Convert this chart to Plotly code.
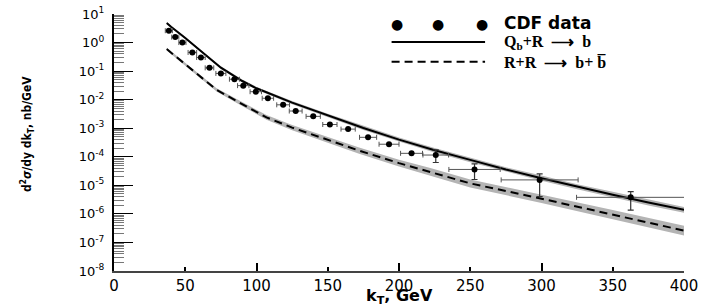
import plotly.graph_objects as go

# CDF data points (kT in GeV, cross section in nb/GeV)
cdf_kt = [38.5, 43, 48, 55, 61, 67, 75, 84.5, 90.7, 99.5, 108, 118.7, 127.5, 139.8,
          151.5, 164.3, 178.3, 193, 208.8, 225.8, 253, 298.7, 362.6]
cdf_val = [2.6, 1.55, 1.0, 0.45, 0.30, 0.13, 0.083, 0.052, 0.031, 0.019, 0.0112, 0.0066,
           0.0040, 0.0026, 0.00135, 0.00093, 0.00048, 0.000275, 0.000132, 0.000115,
           3.6e-5, 1.55e-5, 3.8e-6]
cdf_kt_err = [2.5, 2.5, 2.5, 3, 3, 3, 3.5, 3.5, 4, 4, 4, 4.5, 4.5, 5, 5, 5, 6, 7,
              7.7, 9, 18, 27, 38]
cdf_err_up = [None] * 19 + [5.9e-5, 2.0e-5, 0.95e-5, 2.2e-6]
cdf_err_dn = [None] * 19 + [5.2e-5, 2.0e-5, 1.15e-5, 2.45e-6]

# Qb+R -> b  (solid)
qb_kt = [37, 40, 50, 60, 75, 90, 100, 125, 150, 175, 200, 225, 250, 275, 300, 325, 350, 375, 400]
qb_val = [4.8, 3.55, 1.45, 0.54, 0.132, 0.045, 0.025, 7.9e-3, 2.8e-3, 1.02e-3, 4.0e-4, 1.7e-4,
          7.8e-5, 3.6e-5, 1.78e-5, 8.9e-6, 4.7e-6, 2.5e-6, 1.38e-6]
qb_band = [0.04, 0.04, 0.04, 0.04, 0.05, 0.05, 0.05, 0.06, 0.06, 0.07, 0.07, 0.08, 0.08,
           0.08, 0.09, 0.09, 0.1, 0.1, 0.1]  # half width, decades

# R+R -> b + bbar  (dashed)
rr_kt = [37, 46, 60, 72, 88, 107, 125, 150, 172, 200, 222, 250, 300, 350, 400]
rr_val = [0.59, 0.25, 0.068, 0.022, 7.9e-3, 2.4e-3, 1.05e-3, 4.0e-4, 1.65e-4, 6.0e-5,
          3.0e-5, 1.17e-5, 3.4e-6, 9.5e-7, 2.6e-7]
rr_band = [0.05, 0.05, 0.05, 0.06, 0.07, 0.08, 0.09, 0.1, 0.11, 0.12, 0.13, 0.14, 0.15,
           0.16, 0.17]

y_ticks = [1e-8, 1e-7, 1e-6, 1e-5, 1e-4, 1e-3, 1e-2, 1e-1, 1e0, 1e1]
y_ticktext = ['10<sup>-8</sup>', '10<sup>-7</sup>', '10<sup>-6</sup>', '10<sup>-5</sup>',
              '10<sup>-4</sup>', '10<sup>-3</sup>', '10<sup>-2</sup>', '10<sup>-1</sup>',
              '10<sup>0</sup>', '10<sup>1</sup>']

BAND = '#b4b4b4'
FONT = 'DejaVu Sans, Liberation Sans, sans-serif'
SERIF = 'Liberation Serif, Times New Roman, serif'

fig = go.Figure()


def add_band(kt, val, w):
	lo = [v / 10 ** d for v, d in zip(val, w)]
	hi = [v * 10 ** d for v, d in zip(val, w)]
	fig.add_trace(go.Scatter(x=kt, y=lo, mode='lines', line=dict(width=0), showlegend=False,
	                         hoverinfo='skip'))
	fig.add_trace(go.Scatter(x=kt, y=hi, mode='lines', line=dict(width=0), fill='tonexty',
	                         fillcolor=BAND, showlegend=False, hoverinfo='skip'))


add_band(rr_kt, rr_val, rr_band)
add_band(qb_kt, qb_val, qb_band)

fig.add_trace(go.Scatter(x=rr_kt, y=rr_val, mode='lines',
                         line=dict(color='black', width=2, dash='8px,5px'), showlegend=False))
fig.add_trace(go.Scatter(x=qb_kt, y=qb_val, mode='lines',
                         line=dict(color='black', width=2), showlegend=False))

fig.add_trace(go.Scatter(
	x=cdf_kt, y=cdf_val, mode='markers',
	marker=dict(color='black', size=6, symbol='circle'),
	error_x=dict(type='data', array=cdf_kt_err, color='#555555', thickness=1, width=2.5),
	error_y=dict(type='data', array=cdf_err_up, arrayminus=cdf_err_dn, color='#333333',
	             thickness=1.2, width=3),
	showlegend=False))

# invisible trace so the overlay axis carrying the long ticks is drawn
fig.add_trace(go.Scatter(x=[0, 400], y=[1e-8, 1e-8], xaxis='x2', mode='lines',
                         line=dict(width=0), showlegend=False, hoverinfo='skip'))

minor_vals = [k * t for t in y_ticks[:-1] for k in range(2, 10)]

fig.update_layout(
	width=717, height=307,
	margin=dict(l=114, r=33, t=14, b=36),
	plot_bgcolor='white', paper_bgcolor='white',
	font=dict(family=FONT, size=14, color='black'),
	xaxis=dict(
		range=[0, 400], tickmode='linear', tick0=0, dtick=50,
		ticks='inside', ticklen=4.5, tickwidth=1.5, tickcolor='black',
		showline=True, linecolor='#444444', linewidth=1.5,
		showgrid=False, zeroline=False, automargin=False,
		tickfont=dict(family=FONT, size=15),
	),
	xaxis2=dict(
		range=[0, 400], overlaying='x', anchor='y', tickmode='linear', tick0=0, dtick=100,
		ticks='inside', ticklen=8, tickwidth=1.5, tickcolor='black',
		showticklabels=False, showline=False, showgrid=False, zeroline=False,
		automargin=False,
	),
	yaxis=dict(
		type='log', range=[-8, 1],
		tickmode='array', tickvals=y_ticks, ticktext=y_ticktext,
		ticks='inside', ticklen=19, tickwidth=1.2, tickcolor='black',
		minor=dict(tickmode='array', tickvals=minor_vals, ticks='inside', ticklen=10,
		           tickcolor='#777777', tickwidth=1, showgrid=False),
		showline=True, linecolor='black', linewidth=2,
		showgrid=False, zeroline=False, automargin=False,
		tickfont=dict(family=FONT, size=13),
		ticklabelstandoff=5,
	),
)

# axis titles
fig.add_annotation(text='<b>k<sub>T</sub>, GeV</b>', xref='paper', yref='paper',
                   x=0.5, y=-0.05, xanchor='center', yanchor='top', showarrow=False,
                   font=dict(family=FONT, size=16))
fig.add_annotation(text='<b>d<sup>2</sup><i>σ</i>/dy dk<sub>T</sub>, nb/GeV</b>',
                   xref='paper', yref='paper', x=-0.1526, y=0.533, textangle=-90,
                   xanchor='center', yanchor='middle', showarrow=False,
                   font=dict(family='DejaVu Sans Condensed, Liberation Sans Narrow, '
                                    'Liberation Sans, sans-serif', size=12))

# legend, drawn by hand
for xp in [0.496, 0.568, 0.645]:
	fig.add_annotation(text='●', xref='paper', yref='paper', x=xp, y=0.962,
	                   xanchor='center', yanchor='middle', showarrow=False,
	                   font=dict(family=FONT, size=14, color='black'))
fig.add_shape(type='line', xref='paper', yref='paper', x0=0.487, x1=0.651, y0=0.891, y1=0.891,
              line=dict(color='black', width=2))
fig.add_shape(type='line', xref='paper', yref='paper', x0=0.487, x1=0.651, y0=0.814, y1=0.814,
              line=dict(color='black', width=2, dash='8px,5px'))
fig.add_annotation(text='<b>CDF data</b>', xref='paper', yref='paper', x=0.68, y=0.965,
                   xanchor='left', yanchor='middle', showarrow=False,
                   font=dict(family=FONT, size=17))
fig.add_annotation(text='<b>Q<sub>b</sub>+R  ⟶  b</b>', xref='paper', yref='paper', x=0.68,
                   y=0.888, xanchor='left', yanchor='middle', showarrow=False,
                   font=dict(family=SERIF, size=16))
fig.add_annotation(text='<b>R+R  ⟶  b+ b\u0305</b>', xref='paper', yref='paper', x=0.68,
                   y=0.812, xanchor='left', yanchor='middle', showarrow=False,
                   font=dict(family=SERIF, size=16))

# drop the default 8px page margin so the figure fills the window exactly
fig.write_html('out.html', config={'displayModeBar': False},
               post_script="document.body.style.margin = '0';")
